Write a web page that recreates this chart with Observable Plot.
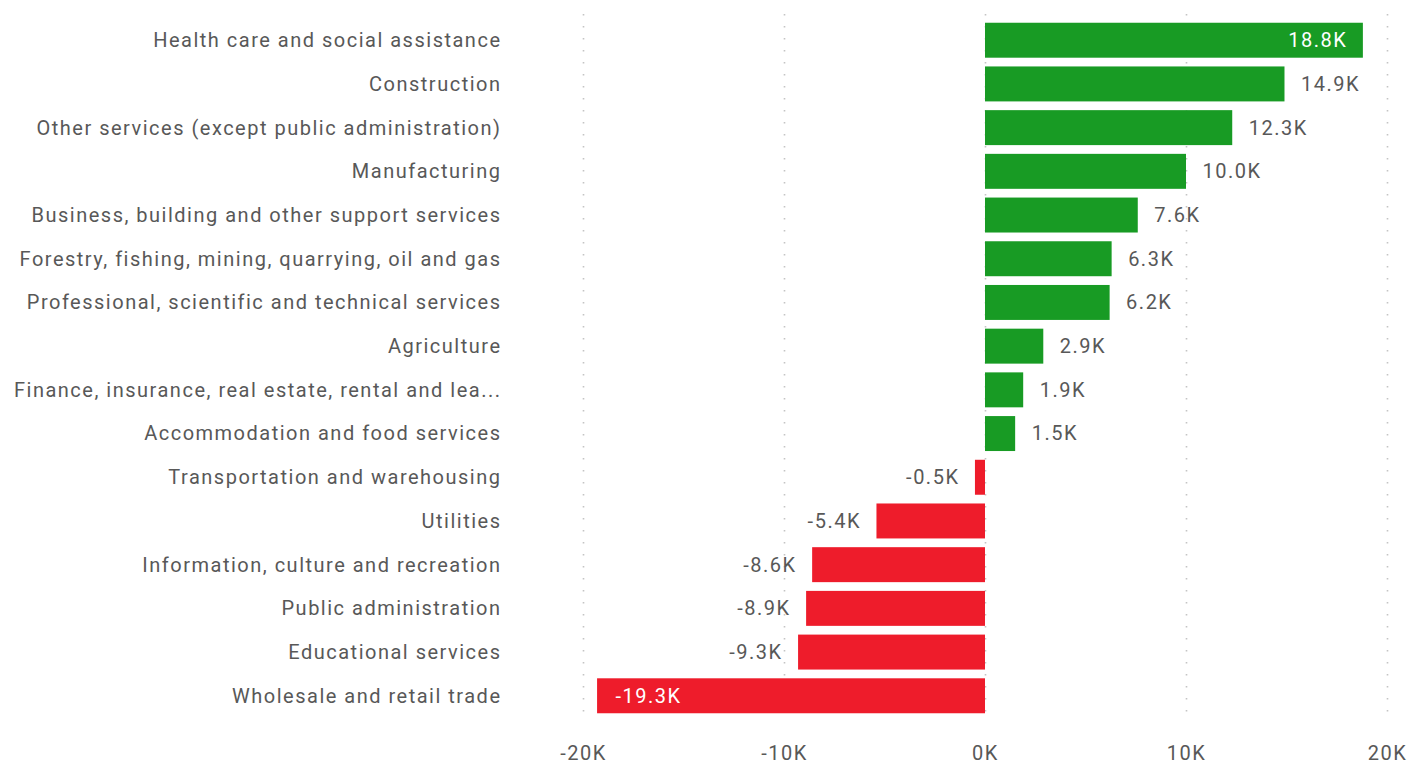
<!DOCTYPE html>
<html>
<head>
<meta charset="utf-8">
<script src="https://cdn.jsdelivr.net/npm/d3@7"></script>
<script src="https://cdn.jsdelivr.net/npm/@observablehq/plot@0.6"></script>
<style>
  html, body { margin: 0; padding: 0; background: #fff; }
  #chart svg { display: block; }
  #chart svg text { letter-spacing: 1.5px; }
</style>
</head>
<body>
<div id="chart"></div>
<script>
const categories = [
  "Health care and social assistance",
  "Construction",
  "Other services (except public administration)",
  "Manufacturing",
  "Business, building and other support services",
  "Forestry, fishing, mining, quarrying, oil and gas",
  "Professional, scientific and technical services",
  "Agriculture",
  "Finance, insurance, real estate, rental and lea...",
  "Accommodation and food services",
  "Transportation and warehousing",
  "Utilities",
  "Information, culture and recreation",
  "Public administration",
  "Educational services",
  "Wholesale and retail trade"
];
const values = [18800, 14900, 12300, 10000, 7600, 6300, 6200, 2900, 1900, 1500, -500, -5400, -8600, -8900, -9300, -19300];
const xTicks = [-20000, -10000, 0, 10000, 20000];

const GREEN = "#189b24";
const RED = "#ee1c2b";
const TEXT = "#585858";

const data = categories.map((c, i) => ({category: c, value: values[i]}));
const fmt = v => (v / 1000).toFixed(1) + "K";
const isInside = d => Math.abs(d.value) > 17000;

const chart = Plot.plot({
  width: 1418,
  height: 767,
  marginLeft: 583,
  marginRight: 31,
  marginTop: 14,
  marginBottom: 45,
  style: {fontFamily: "Roboto, 'DejaVu Sans', sans-serif", fontSize: "20px", color: TEXT, background: "#fff"},
  x: {domain: [-20000, 20000], label: null},
  y: {domain: categories, padding: 0.2, round: false, label: null},
  color: {type: "identity"},
  marks: [
    Plot.gridX(xTicks, {stroke: "#c4c4c4", strokeOpacity: 1, strokeWidth: 1.6, strokeDasharray: "1.6,10.4"}),
    Plot.barX(data, {x: "value", y: "category", fill: d => d.value >= 0 ? GREEN : RED}),
    // outside labels
    Plot.text(data.filter(d => !isInside(d) && d.value >= 0), {x: "value", y: "category", text: d => fmt(d.value), textAnchor: "start", dx: 16, fill: TEXT, fontSize: 20}),
    Plot.text(data.filter(d => !isInside(d) && d.value < 0), {x: "value", y: "category", text: d => fmt(d.value), textAnchor: "end", dx: -16, fill: TEXT, fontSize: 20}),
    // inside labels
    Plot.text(data.filter(d => isInside(d) && d.value >= 0), {x: "value", y: "category", text: d => fmt(d.value), textAnchor: "end", dx: -16, fill: "#fff", fontSize: 20}),
    Plot.text(data.filter(d => isInside(d) && d.value < 0), {x: "value", y: "category", text: d => fmt(d.value), textAnchor: "start", dx: 18, fill: "#fff", fontSize: 20}),
    Plot.axisY({tickSize: 0, tickPadding: 82, fontSize: 20, fill: TEXT, label: null}),
    Plot.axisX({ticks: xTicks, tickFormat: d => (d / 1000) + "K", tickSize: 0, tickPadding: 23, fontSize: 20, fill: TEXT, label: null})
  ]
});
document.getElementById("chart").append(chart);
</script>
</body>
</html>
